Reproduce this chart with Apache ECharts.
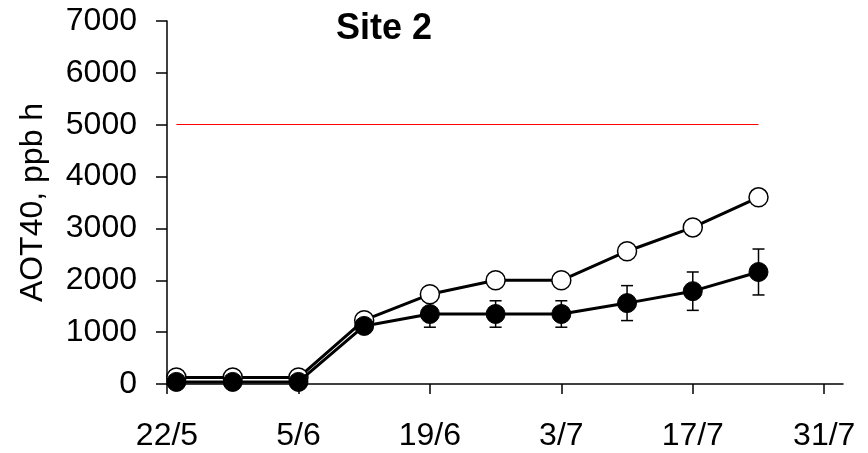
<!DOCTYPE html>
<html>
<head>
<meta charset="utf-8">
<script src="https://cdn.jsdelivr.net/npm/echarts@6/dist/echarts.min.js"></script>
<style>
html,body{margin:0;padding:0;background:#fff;}
#chart{width:868px;height:453px;}
</style>
</head>
<body>
<div id="chart"></div>
<script>
// Days counted from 22/5
var sampleDays = [1, 7, 14, 21, 28, 35, 42, 49, 56, 63];
var openValues = [125, 125, 125, 1230, 1730, 2000, 2000, 2560, 3020, 3600];
var filledValues = [40, 40, 40, 1120, 1350, 1350, 1350, 1560, 1790, 2160];
var filledErrors = [0, 0, 0, 0, 255, 255, 255, 337, 370, 443];
var tickDays = [0, 14, 28, 42, 56, 70];
var tickLabels = ['22/5', '5/6', '19/6', '3/7', '17/7', '31/7'];
var yTicks = [0, 1000, 2000, 3000, 4000, 5000, 6000, 7000];
var yTickLabels = ['0', '1000', '2000', '3000', '4000', '5000', '6000', '7000'];
var thresholdValue = 5000;
var thresholdStart = sampleDays[0];
var thresholdEnd = sampleDays[sampleDays.length - 1];

var FONT = 'Liberation Sans, Arial, sans-serif';

function pairs(xs, ys) {
  return xs.map(function (x, i) { return [x, ys[i]]; });
}
var errData = sampleDays.map(function (d, i) {
  return [d, filledValues[i] - filledErrors[i], filledValues[i] + filledErrors[i]];
}).filter(function (r, i) { return filledErrors[i] > 0; });

var chart = echarts.init(document.getElementById('chart'), null, {renderer: 'canvas'});
chart.setOption({
  animation: false,
  backgroundColor: '#fff',
  title: {
    text: 'Site 2',
    left: 331,
    top: 6,
    textStyle: {fontFamily: FONT, fontSize: 36, fontWeight: 'bold', color: '#000'}
  },
  grid: {left: 167, right: 25, top: 21, bottom: 69, containLabel: false, outerBoundsMode: 'none'},
  xAxis: {
    type: 'value',
    min: 0,
    max: 72,
    interval: 14,
    axisLine: {show: true, onZero: false, lineStyle: {color: '#000', width: 1.5}},
    axisTick: {show: true, length: 10, inside: false, customValues: tickDays, lineStyle: {color: '#000', width: 1.5}},
    axisLabel: {
      show: true, margin: 36, customValues: tickDays,
      fontFamily: FONT, fontSize: 32, color: '#000',
      formatter: function (v) { var i = tickDays.indexOf(v); return i >= 0 ? tickLabels[i] : ''; }
    },
    splitLine: {show: false}
  },
  yAxis: {
    type: 'value',
    min: yTicks[0],
    max: yTicks[yTicks.length - 1],
    interval: 1000,
    name: 'AOT40, ppb h',
    nameLocation: 'middle',
    nameGap: 118,
    nameRotate: 90,
    nameTextStyle: {fontFamily: FONT, fontSize: 32, color: '#000'},
    axisLine: {show: true, lineStyle: {color: '#000', width: 1.5}},
    axisTick: {show: true, length: 11, inside: false, lineStyle: {color: '#000', width: 1.5}},
    axisLabel: {
      show: true, margin: 30, fontFamily: FONT, fontSize: 32, color: '#000',
      formatter: function (v) { var i = yTicks.indexOf(v); return i >= 0 ? yTickLabels[i] : ''; }
    },
    splitLine: {show: false}
  },
  series: [
    {
      type: 'custom',
      name: 'err',
      z: 1,
      renderItem: function (params, api) {
        var x = api.value(0);
        var lo = api.coord([x, api.value(1)]);
        var hi = api.coord([x, api.value(2)]);
        var hw = 6;
        var st = {stroke: '#000', lineWidth: 1.5};
        return {
          type: 'group',
          children: [
            {type: 'line', shape: {x1: lo[0], y1: lo[1], x2: hi[0], y2: hi[1]}, style: st},
            {type: 'line', shape: {x1: lo[0] - hw, y1: lo[1], x2: lo[0] + hw, y2: lo[1]}, style: st},
            {type: 'line', shape: {x1: hi[0] - hw, y1: hi[1], x2: hi[0] + hw, y2: hi[1]}, style: st}
          ]
        };
      },
      encode: {x: 0, y: [1, 2]},
      data: errData
    },
    {
      type: 'line',
      name: 'open',
      z: 2,
      data: pairs(sampleDays, openValues),
      symbol: 'circle',
      symbolSize: 19,
      lineStyle: {color: '#000', width: 3},
      itemStyle: {color: '#fff', borderColor: '#000', borderWidth: 1.5},
      markLine: {
        silent: true,
        symbol: ['none', 'none'],
        label: {show: false},
        lineStyle: {color: '#ff0000', width: 1.2, type: 'solid'},
        data: [[{coord: [thresholdStart, thresholdValue]}, {coord: [thresholdEnd, thresholdValue]}]]
      }
    },
    {
      type: 'line',
      name: 'filled',
      z: 3,
      data: pairs(sampleDays, filledValues),
      symbol: 'circle',
      symbolSize: 19,
      lineStyle: {color: '#000', width: 3},
      itemStyle: {color: '#000', borderColor: '#000', borderWidth: 1}
    }
  ]
});
</script>
</body>
</html>
